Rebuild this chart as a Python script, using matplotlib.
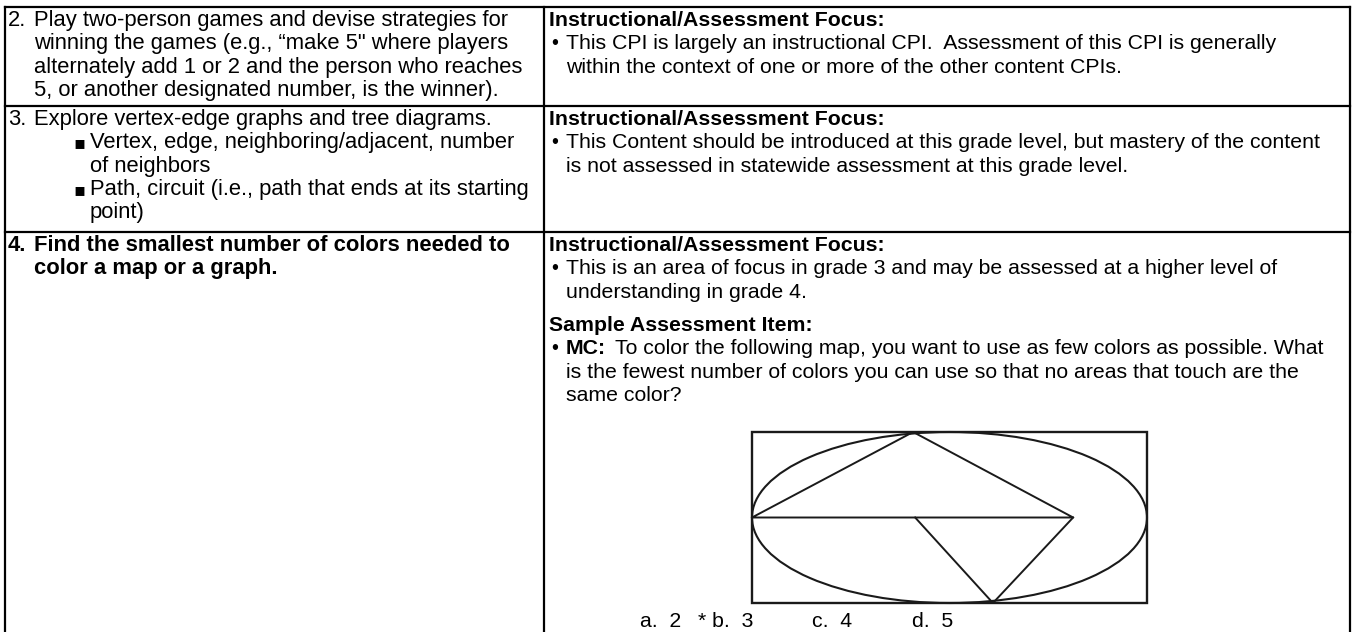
import matplotlib
matplotlib.use("Agg")
import matplotlib.pyplot as plt
from matplotlib.patches import Ellipse, Rectangle

plt.rcParams['font.family'] = ['Liberation Sans', 'DejaVu Sans']

# ---- content of the table ----
row_numbers = ["2.", "3.", "4."]

left_col = [
    [("", "Play two-person games and devise strategies for"),
     ("", "winning the games (e.g., \u201cmake 5\" where players"),
     ("", "alternately add 1 or 2 and the person who reaches"),
     ("", "5, or another designated number, is the winner).")],
    [("", "Explore vertex-edge graphs and tree diagrams."),
     ("sq", "Vertex, edge, neighboring/adjacent, number"),
     ("in", "of neighbors"),
     ("sq", "Path, circuit (i.e., path that ends at its starting"),
     ("in", "point)")],
    [("", "Find the smallest number of colors needed to"),
     ("", "color a map or a graph.")],
]
left_bold = [False, False, True]

header = "Instructional/Assessment Focus:"
right_col = [
    ["This CPI is largely an instructional CPI.  Assessment of this CPI is generally",
     "within the context of one or more of the other content CPIs."],
    ["This Content should be introduced at this grade level, but mastery of the content",
     "is not assessed in statewide assessment at this grade level."],
    ["This is an area of focus in grade 3 and may be assessed at a higher level of",
     "understanding in grade 4."],
]
sample_header = "Sample Assessment Item:"
mc_label = "MC:"
mc_lines = ["To color the following map, you want to use as few colors as possible. What",
            "is the fewest number of colors you can use so that no areas that touch are the",
            "same color?"]
answers = ["a.  2", "* b.  3", "c.  4", "d.  5"]

# map drawing, in fractions of its bounding rectangle
map_segments = [
    [(0.0, 0.5), (0.408, 1.0), (0.813, 0.5), (0.0, 0.5)],
    [(0.413, 0.5), (0.61, 0.0), (0.813, 0.5)],
]

# ---- layout (pixels) ----
W, H = 1354, 632
x_left, x_div, x_right = 5, 544, 1350
row_tops = [7, 106, 232]
y_bottom = 632
line_h = 23.3
fs_left = 15.8
fs_right = 15.3

fig = plt.figure(figsize=(W / 100, H / 100), dpi=100)
ax = fig.add_axes([0, 0, 1, 1])
ax.set_xlim(0, W)
ax.set_ylim(H, 0)
ax.axis('off')

lw = 1.6
for y in row_tops:
    ax.plot([x_left, x_right], [y, y], color='black', lw=lw)
for x in (x_left, x_div, x_right):
    ax.plot([x, x], [row_tops[0], y_bottom], color='black', lw=lw)


def base(row, i, extra=0):
    return row_tops[row] + 19 + i * line_h + extra


def txt(x, y, s, bold=False, size=fs_right):
    return ax.text(x, y, s, fontsize=size, va='baseline', ha='left',
                   fontweight='bold' if bold else 'normal')


for r, lines in enumerate(left_col):
    txt(8, base(r, 0), row_numbers[r], bold=left_bold[r], size=fs_left)
    for i, (kind, s) in enumerate(lines):
        if kind == "sq":
            ax.text(73, base(r, i), "\u25aa", fontsize=fs_left - 3, va='baseline',
                    family=['DejaVu Sans'])
            txt(90, base(r, i), s, bold=left_bold[r], size=fs_left)
        elif kind == "in":
            txt(90, base(r, i), s, bold=left_bold[r], size=fs_left)
        else:
            txt(34, base(r, i), s, bold=left_bold[r], size=fs_left)

for r, lines in enumerate(right_col):
    txt(549, base(r, 0), header, bold=True)
    txt(551, base(r, 1), "\u2022", size=fs_right - 1)
    for i, s in enumerate(lines):
        txt(566, base(r, i + 1), s)

# sample item in row 3
gap = 10
txt(549, base(2, 3, gap), sample_header, bold=True)
txt(551, base(2, 4, gap), "\u2022", size=fs_right - 1)
t = txt(566, base(2, 4, gap), mc_label, bold=True)
fig.canvas.draw()
bb = t.get_window_extent()
x_mc = ax.transData.inverted().transform((bb.x1, 0))[0] + 9
txt(x_mc, base(2, 4, gap), mc_lines[0])
for i, s in enumerate(mc_lines[1:]):
    txt(566, base(2, 5 + i, gap), s)

# map figure
mx0, mx1, my0, my1 = 752, 1147, 432, 603
max_ = fig.add_axes([mx0 / W, 1 - my1 / H, (mx1 - mx0) / W, (my1 - my0) / H])
max_.set_xlim(0, 1)
max_.set_ylim(0, 1)
max_.axis('off')
ink = '#1a1a1a'
max_.add_patch(Rectangle((0, 0), 1, 1, fill=False, ec=ink, lw=1.7, clip_on=False))
max_.add_patch(Ellipse((0.5, 0.5), 1, 1, fill=False, ec=ink, lw=1.5, clip_on=False))
for seg in map_segments:
    xs = [p[0] for p in seg]
    ys = [p[1] for p in seg]
    max_.plot(xs, ys, color=ink, lw=1.4, clip_on=False)

ans_x = [640, 698, 812, 912]
for x, s in zip(ans_x, answers):
    txt(x, 627, s)

fig.savefig("out.png", dpi=100)
